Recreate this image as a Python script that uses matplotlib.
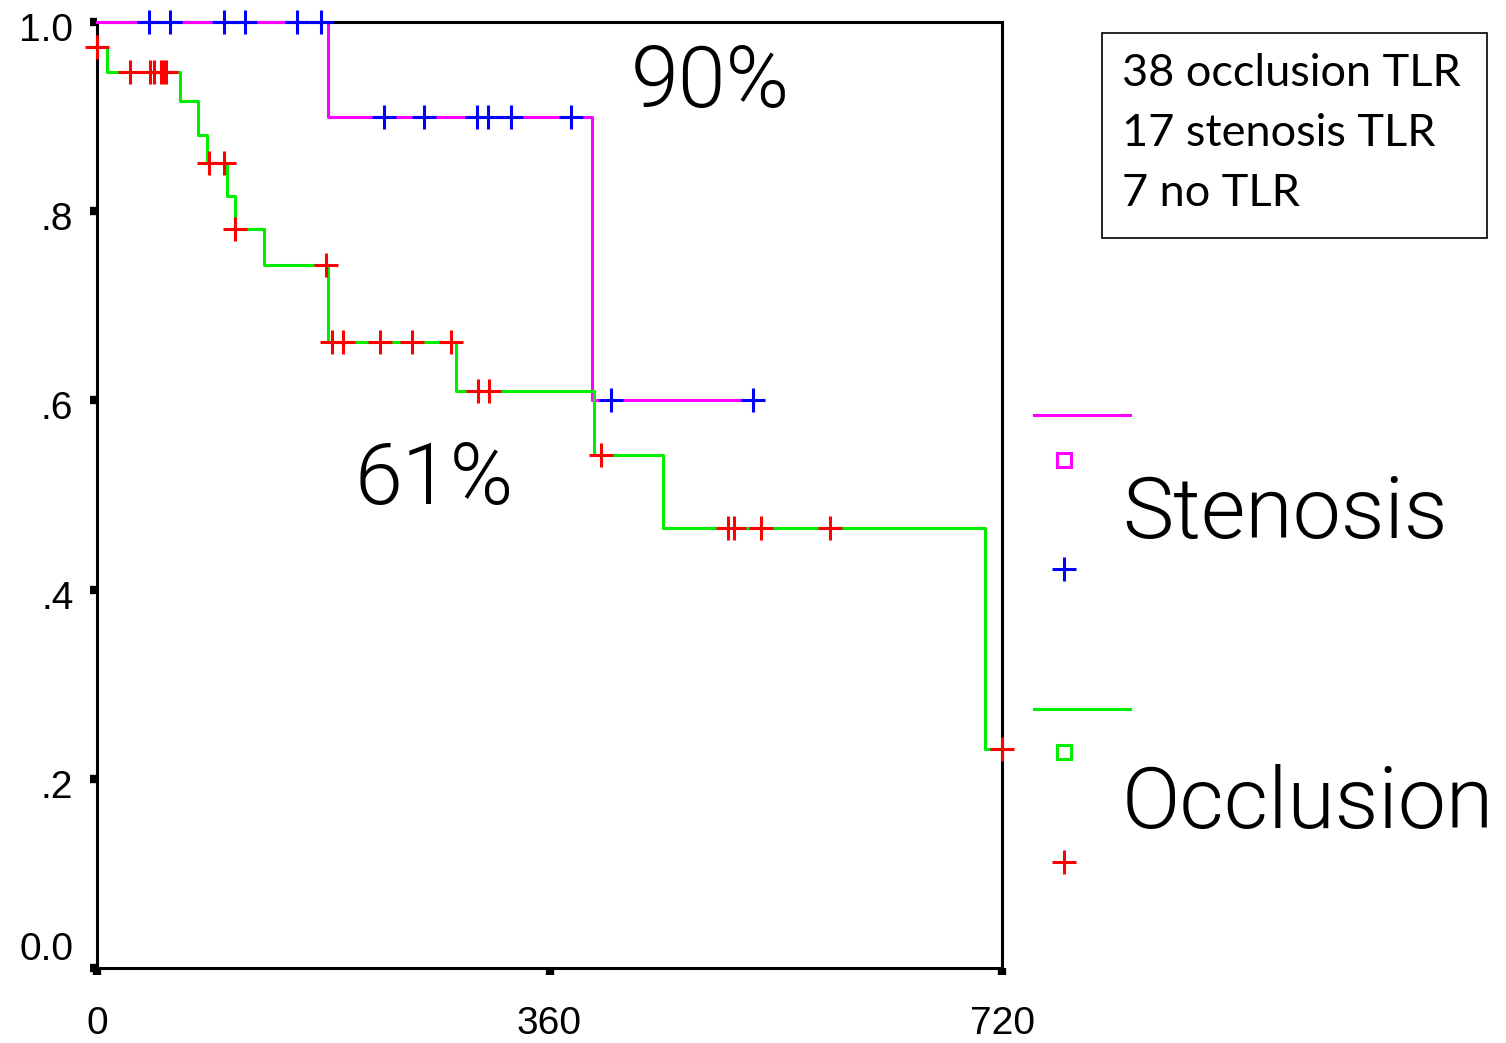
import matplotlib
matplotlib.use("Agg")
import matplotlib.pyplot as plt
from matplotlib import font_manager as fm
from matplotlib.lines import Line2D
from matplotlib.patches import Rectangle
from matplotlib.transforms import ScaledTranslation

# Kaplan-Meier steps (days, survival)
sten_t = [0, 184, 394, 523]
sten_s = [1.0, 0.90, 0.60, 0.60]
occl_t = [0, 7.7, 66, 80.7, 87.3, 103.3, 110, 132.5, 184, 286, 395.3, 450.5, 706.4, 720]
occl_s = [0.974, 0.947, 0.916, 0.881, 0.851, 0.816, 0.781, 0.743, 0.662, 0.610, 0.542, 0.465, 0.231, 0.231]

# censored observations
sten_cens_t = [41, 58, 101, 118, 159, 178, 228, 260, 302, 311, 329, 377, 409, 522]
sten_cens_s = [1.0, 1.0, 1.0, 1.0, 1.0, 1.0, 0.90, 0.90, 0.90, 0.90, 0.90, 0.90, 0.60, 0.60]
occl_cens_t = [0, 26, 42, 45, 51, 53, 55, 89, 101, 110, 182, 187, 196, 225, 251, 282,
               303, 312, 401, 502, 507, 528, 583, 720]
occl_cens_s = [0.974, 0.947, 0.947, 0.947, 0.947, 0.947, 0.947, 0.851, 0.851, 0.781, 0.743,
               0.662, 0.662, 0.662, 0.662, 0.662, 0.610, 0.610, 0.542, 0.465, 0.465, 0.465,
               0.465, 0.231]

x_ticks = [0, 360, 720]
y_ticks = [0.0, 0.2, 0.4, 0.6, 0.8, 1.0]
y_labels = ["0.0", ".2", ".4", ".6", ".8", "1.0"]

box_lines = ["38 occlusion TLR", "17 stenosis TLR", "7 no TLR"]

tick_font = ["Liberation Sans Narrow", "Liberation Sans", "DejaVu Sans"]


def pick_light(size):
    """ look for a light (300) face among the installed sans families """
    for name in ["Roboto", "Inter", "Lato", "Noto Sans", "Open Sans"]:
        for f in fm.fontManager.ttflist:
            if f.name == name and f.weight == 300 and f.style == "normal":
                return fm.FontProperties(fname=f.fname, size=size)
    return fm.FontProperties(family="Lato", weight="light", size=size)


big = pick_light(62)

fig = plt.figure(figsize=(15.06, 10.43), dpi=100)
ax = fig.add_axes([97 / 1506, 1 - 968 / 1043, 905 / 1506, 946 / 1043])

ax.step(sten_t, sten_s, where="post", color="#ff00ff", lw=2.2, clip_on=False, zorder=4)
ax.step(occl_t, occl_s, where="post", color="#00ee00", lw=2.2, clip_on=False, zorder=4)
ax.plot(sten_cens_t, sten_cens_s, ls="none", marker="+", ms=17, mew=2.2,
        color="#0000ff", clip_on=False, zorder=5)
ax.plot(occl_cens_t, occl_cens_s, ls="none", marker="+", ms=17, mew=2.2,
        color="#ff0000", clip_on=False, zorder=5)

ax.set_xlim(0, 720)
ax.set_ylim(0, 1.0)
ax.set_xticks(x_ticks)
ax.set_yticks(y_ticks)
ax.set_yticklabels(y_labels)
for sp in ax.spines.values():
    sp.set_linewidth(2.2)
    sp.set_zorder(3)
ax.tick_params(direction="out", length=5, width=6, labelsize=28)
ax.tick_params(axis="y", pad=12)
ax.tick_params(axis="x", pad=22)
for lab in ax.get_xticklabels() + ax.get_yticklabels():
    lab.set_family(tick_font)
down = ScaledTranslation(0, -5 / 100, fig.dpi_scale_trans)
for lab in ax.get_yticklabels():
    if lab.get_text() == "0.0":
        lab.set_va("bottom")
    else:
        lab.set_transform(lab.get_transform() + down)

ax.text(0.590, 0.935, "90%", transform=ax.transAxes, fontproperties=big,
        va="center", ha="left")
ax.text(0.285, 0.515, "61%", transform=ax.transAxes, fontproperties=big,
        va="center", ha="left")

# info box top right
fig.patches.append(Rectangle((1102 / 1506, 1 - 238 / 1043), 385 / 1506, 205 / 1043,
                             transform=fig.transFigure, fill=False, ec="black", lw=1.2))
for i, line in enumerate(box_lines):
    fig.text(1122 / 1506, 1 - (74 + 60 * i) / 1043, line, fontsize=32.5,
             family=["Lato", "DejaVu Sans"], va="center", ha="left")

# hand drawn legend at right
def legend_group(y_line, color, mark_color, label, y_sq, y_txt, y_plus):
    fig.add_artist(Line2D([1034 / 1506, 1130 / 1506], [1 - y_line / 1043] * 2,
                          color=color, lw=2.2, transform=fig.transFigure))
    fig.add_artist(Line2D([1064 / 1506], [1 - y_sq / 1043], marker="s", ms=10,
                          mfc="none", mec=color, mew=2.2, ls="none",
                          transform=fig.transFigure))
    fig.add_artist(Line2D([1064 / 1506], [1 - y_plus / 1043], marker="+", ms=17,
                          mew=2.2, color=mark_color, ls="none",
                          transform=fig.transFigure))
    fig.text(1122 / 1506, 1 - y_txt / 1043, label, fontproperties=big,
             va="center", ha="left")

legend_group(415, "#ff00ff", "#0000ff", "Stenosis", 460, 515, 569)
legend_group(709, "#00ee00", "#ff0000", "Occlusion", 752, 805, 862)

fig.savefig("out.png", dpi=100, facecolor="white")
